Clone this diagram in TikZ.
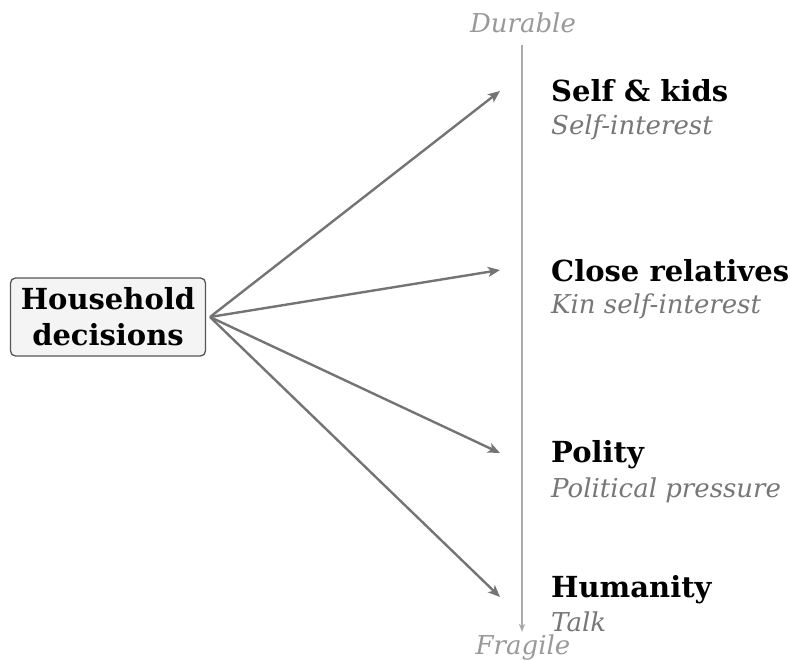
\documentclass[tikz,border=0pt]{standalone}
\usepackage{fontspec}
\setmainfont{DejaVu Serif}[BoldFont={DejaVu Serif Bold}, ItalicFont={DejaVu Serif Italic}]
\usetikzlibrary{arrows.meta}
\definecolor{arrowgray}{HTML}{747474}
\definecolor{axisgray}{HTML}{AAAAAA}
\definecolor{subgray}{HTML}{777777}
\definecolor{endgray}{HTML}{999999}
\definecolor{boxfill}{HTML}{F4F4F4}
\definecolor{boxdraw}{HTML}{555555}
\tikzset{
  hbox/.style={draw=boxdraw, fill=boxfill, rounded corners=5pt, line width=1.3pt,
    align=center, font=\fontsize{29}{36}\selectfont\bfseries, inner xsep=0pt, inner ysep=0pt,
    minimum width=195pt, minimum height=78pt},
  ttl/.style={anchor=base west, inner sep=0pt, font=\fontsize{29}{34}\selectfont\bfseries, text=black},
  sub/.style={anchor=base west, inner sep=0pt, font=\fontsize{26}{30}\selectfont\itshape, text=subgray},
  endlbl/.style={anchor=base, inner sep=0pt, font=\fontsize{26}{30}\selectfont\itshape, text=endgray},
  conn/.style={draw=arrowgray, line width=2.4pt, -{Stealth[length=12pt,width=10pt,inset=3pt]}},
  axis/.style={draw=axisgray, line width=1.3pt, -{Stealth[length=8pt,width=6pt,inset=2pt]}}
}
\begin{document}
\begin{tikzpicture}[x=1pt,y=-1pt]
\useasboundingbox (0,0) rectangle (790,661);
\node[hbox] (hh) at (108,317) {Household\\decisions};
\coordinate (src) at (210,317);
\coordinate (t1) at (500,91);
\coordinate (t2) at (500,270);
\coordinate (t3) at (500,453);
\coordinate (t4) at (500,597);
\coordinate (atop) at (522,45);
\coordinate (abot) at (522,632);
\draw[axis] (atop) -- (abot);
\node[endlbl] (dur) at (523,33) {Durable};
\node[endlbl] (fra) at (523,654) {Fragile};
\draw[conn] (src) -- (t1);
\draw[conn] (src) -- (t2);
\draw[conn] (src) -- (t3);
\draw[conn] (src) -- (t4);
\node[ttl] (n1) at (551,102) {Self \& kids};
\node[sub] (s1) at (551,134) {Self-interest};
\node[ttl] (n2) at (551,281) {Close relatives};
\node[sub] (s2) at (551,313) {Kin self-interest};
\node[ttl] (n3) at (551,462) {Polity};
\node[sub] (s3) at (551,497) {Political pressure};
\node[ttl] (n4) at (551,597) {Humanity};
\node[sub] (s4) at (551,631) {Talk};
\end{tikzpicture}
\end{document}
